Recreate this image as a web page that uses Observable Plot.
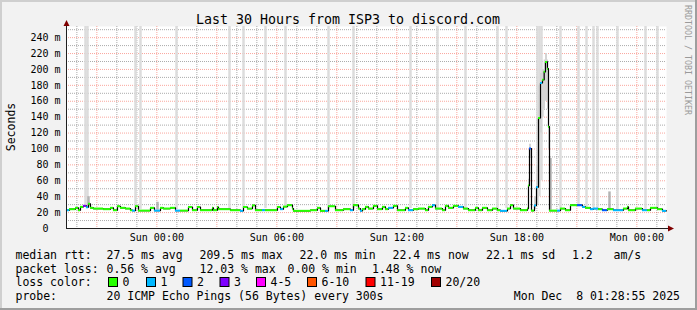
<!DOCTYPE html>
<html><head><meta charset="utf-8">
<script src="https://cdn.jsdelivr.net/npm/d3@7"></script>
<script src="https://cdn.jsdelivr.net/npm/@observablehq/plot@0.6"></script>
<style>
html,body{margin:0;padding:0;background:#f2f2f2;}
#chart{width:697px;height:310px;position:relative;overflow:hidden;}
</style></head><body><div id="chart"></div>
<script>
// ---------- data ----------
const startTime = "2025-12-06T19:28:55Z";
const endTime = "2025-12-08T01:28:55Z";
const titleText = "Last 30 Hours from ISP3 to discord.com";
const yLabelText = "Seconds";
const watermark = "RRDTOOL / TOBI OETIKER";

// median rtt (ms) as steps: minutes after start, value, loss bucket index
const medianOffsetMin = [0,9,27,36,42,51,60,66,72,81,111,132,141,153,162,177,192,198,207,216,252,264,282,291,312,327,342,366,378,393,402,438,441,453,456,492,522,531,543,558,567,588,597,633,642,651,663,678,681,732,753,762,777,786,807,831,852,861,876,882,888,897,906,921,933,948,957,966,981,993,1017,1026,1041,1056,1077,1086,1098,1107,1128,1137,1146,1161,1176,1191,1206,1227,1236,1248,1263,1278,1293,1302,1323,1332,1341,1362,1383,1386,1389,1395,1404,1410,1416,1422,1428,1433,1437,1443,1446,1449,1473,1482,1497,1512,1533,1548,1557,1572,1581,1596,1608,1623,1641,1671,1683,1686,1707,1728,1743,1752,1773,1788];
const medianMs = [23,24.3,26,23,27.2,28.5,26.8,31,26,25.1,24.3,26,23,28,26,25.1,23,22.5,28,22.5,26,22.5,26,25.1,26,22.5,22.5,27,23,27,23,26,23,27,24.3,23,22.2,27,25,29,23,23,23,27,24.3,27.5,29.3,25,22.2,23,26,22.2,22.2,28,23,24.3,23,29.3,25,22.2,24.3,27.2,25.1,28.5,24.3,27.2,24.3,26,28.5,23,26,23,24.3,25.1,23,27.2,29.3,25.1,23,28.5,26,28.5,27.2,25.1,23,26,23,26,23,25.1,23,22.2,25.1,29.3,25.1,23,25.1,54,100.6,22.5,29,52,139,183,187,197,209.5,201,128,22.5,22.5,25.1,23,29.3,29.3,27.2,26,24.3,25.1,24.3,23,24.3,23,25.1,27.2,23,25.1,23,23,26,24.3,22.2];
const medianLoss = [1,0,0,0,0,3,1,0,0,0,0,0,0,0,0,0,0,1,0,0,0,1,0,0,0,1,0,0,0,0,0,0,0,0,0,0,1,0,0,0,0,1,0,0,1,0,0,0,0,0,0,0,1,0,0,0,1,0,0,1,0,0,0,0,0,0,0,1,0,0,0,1,0,0,0,0,1,0,0,0,0,0,1,0,0,0,0,0,0,0,0,1,0,0,0,0,0,0,2,0,1,1,0,1,0,0,0,0,0,0,1,0,0,0,2,1,0,1,1,0,2,0,1,0,0,0,0,1,0,0,0,1];

// smoke: full-range ping spread bars (minutes after start, low ms, high ms)
const barOffsetMin = [57,63,207,222,330,489,531,597,657,786,861,1032,1113,1197,1293,1320,1413,1419,1425,1482,1536,1560,1581,1593,1653,1737,1773];
const barLoMs = [28,28,27,24,24,23,25,25,27,24,25,25,25,25,24,25,30,40,60,24,27,25,24,25,24,24,24];
const barHiMs = [254,254,254,254,254,254,254,254,254,254,254,254,254,254,254,254,254,254,254,254,254,254,254,254,254,254,254];
// partial smoke bits
const bitOffsetMin = [66,273,1452,1629];
const bitLoMs = [28,23,23,23];
const bitHiMs = [40,33,88,46];
// smoke around the evening spike
const spikeOffsetMin = [1386,1389,1395,1404,1410,1416,1422,1428,1433,1437,1443,1446,1449];
const spikeLoMs = [40,88,22.5,24,32,55,120,140,150,160,150,100,22.5];
const spikeHiMs = [62,106,22.5,40,80,180,195,200,212,220,212,180,22.5];

// loss colour legend
const lossLabels = ["0","1","2","3","4-5","6-10","11-19","20/20"];
const lossColors = ["#26ff00","#00b8ff","#0059ff","#7e00ff","#ff00ff","#ff5500","#ff0000","#a10000"];

// stats legend
const rttLabel = "median rtt:";
const rttStats = ["27.5 ms avg","209.5 ms max","22.0 ms min","22.4 ms now","22.1 ms sd","1.2","am/s"];
const lossLabel = "packet loss:";
const lossStats = ["0.56 % avg","12.03 % max","0.00 % min","1.48 % now"];
const colorLabel = "loss color:";
const probeLabel = "probe:";
const probeText = "20 ICMP Echo Pings (56 Bytes) every 300s";
const stampText = "Mon Dec  8 01:28:55 2025";
const yTicks = [0,20,40,60,80,100,120,140,160,180,200,220,240];

// ---------- build ----------
const t0 = new Date(startTime), tEnd = new Date(endTime);
const at = m => new Date(+t0 + m * 60000);
const med = medianOffsetMin.map((m, i) => ({
  t: at(m),
  t2: at(i + 1 < medianOffsetMin.length ? medianOffsetMin[i + 1] : 1800),
  v: medianMs[i],
  c: lossColors[medianLoss[i]]
}));
const lineData = med.concat([{t: tEnd, v: medianMs[medianMs.length - 1]}]);
const bars = barOffsetMin.map((m, i) => ({t: at(m), lo: barLoMs[i], hi: barHiMs[i]}));
const bits = bitOffsetMin.map((m, i) => ({t: at(m), lo: bitLoMs[i], hi: bitHiMs[i]}));
const spike = spikeOffsetMin.map((m, i) => ({t: at(m), lo: spikeLoMs[i], hi: spikeHiMs[i]}));

const hours = d3.utcHour.range(t0, tEnd);
const majorHours = hours.filter(d => d.getUTCHours() % 3 === 0);
const minorHours = hours.filter(d => d.getUTCHours() % 3 !== 0);
const xTicks = hours.filter(d => d.getUTCHours() % 6 === 0);
const yMinor = d3.range(10, 254, 20);
const yMajor = d3.range(20, 254, 20);

const gridGray = "rgba(143,143,143,0.75)";
const gridRed = "rgba(245,79,61,0.5)";

const plot = Plot.plot({
  width: 697, height: 310,
  marginLeft: 66, marginRight: 31, marginTop: 26, marginBottom: 82,
  style: {background: "#f2f2f2", fontFamily: "DejaVu Sans Mono", fontSize: "10px", color: "#000", overflow: "visible"},
  x: {type: "utc", domain: [t0, tEnd], ticks: xTicks, tickFormat: d3.utcFormat("%a %H:%M"), tickSize: 0, tickPadding: 5, label: null},
  y: {domain: [0, 254], ticks: yTicks, tickFormat: d => d === 0 ? "0\u00a0\u00a0" : d + " m", tickSize: 0, tickPadding: 6, label: null},
  color: {type: "identity"},
  marks: [
    Plot.frame({fill: "white", stroke: "none"}),
    Plot.ruleX(minorHours, {stroke: gridGray, strokeDasharray: "1,1"}),
    Plot.ruleX(majorHours, {stroke: gridRed, strokeDasharray: "1,1"}),
    Plot.ruleY(yMinor, {stroke: gridGray, strokeDasharray: "1,1"}),
    Plot.ruleY(yMajor, {stroke: gridRed, strokeDasharray: "1,1"}),
    Plot.ruleX(bars, {x: "t", y1: "lo", y2: "hi", stroke: "#dcdcdc", strokeWidth: 2.5}),
    Plot.ruleX(bits, {x: "t", y1: "lo", y2: "hi", stroke: "#b4b4b4", strokeWidth: 2.5}),
    Plot.areaY(spike, {x: "t", y1: "lo", y2: "hi", curve: "step-after", fill: "#d4d4d4"}),
    Plot.line(lineData, {x: "t", y: "v", curve: "step-after", stroke: "#000", strokeWidth: 1.2}),
    Plot.ruleY(med, {y: "v", x1: "t", x2: "t2", stroke: "c", strokeWidth: 2}),
    Plot.ruleY([0], {stroke: "#1f1f1f"}),
    Plot.ruleX([t0], {stroke: "#1f1f1f"})
  ]
});
document.getElementById("chart").appendChild(plot);

// ---------- decorations ----------
const svg = d3.select(plot);
const sx = plot.scale("x"), sy = plot.scale("y");
const X0 = sx.apply(t0), X1 = sx.apply(tEnd), Y0 = sy.apply(0), YT = sy.apply(254);
const mono = "DejaVu Sans Mono";

// axis extensions + arrows
svg.append("line").attr("x1", X1).attr("x2", X1 + 3).attr("y1", Y0 + 0.5).attr("y2", Y0 + 0.5).attr("stroke", "#1f1f1f");
svg.append("path").attr("d", `M${X1 + 2},${Y0 - 2.5}L${X1 + 8},${Y0 + 0.5}L${X1 + 2},${Y0 + 3.5}Z`).attr("fill", "#800000");
svg.append("path").attr("d", `M${X0 - 2.5},${YT}L${X0 + 0.5},${YT - 6}L${X0 + 3.5},${YT}Z`).attr("fill", "#800000");

// 3D border
svg.append("rect").attr("x", 0).attr("y", 0).attr("width", 697).attr("height", 2).attr("fill", "#cfcfcf");
svg.append("rect").attr("x", 0).attr("y", 0).attr("width", 2).attr("height", 310).attr("fill", "#cfcfcf");
svg.append("rect").attr("x", 0).attr("y", 308).attr("width", 697).attr("height", 2).attr("fill", "#9e9e9e");
svg.append("rect").attr("x", 695).attr("y", 0).attr("width", 2).attr("height", 310).attr("fill", "#9e9e9e");

function txt(x, y, s, size, extra = {}) {
  const t = svg.append("text").attr("x", x).attr("y", y).text(s)
    .attr("font-family", mono).attr("font-size", size).attr("fill", extra.fill || "#000")
    .attr("text-anchor", extra.anchor || "start")
    .style("white-space", "pre").attr("xml:space", "preserve");
  if (extra.transform) t.attr("transform", extra.transform).attr("x", 0).attr("y", 0);
  return t;
}

txt(348, 24, titleText, "13.3px", {anchor: "middle"});
txt(0, 0, yLabelText, "11.5px", {anchor: "middle", transform: "translate(15,127) rotate(-90)"});
txt(0, 0, watermark, "8.3px", {fill: "#9a9a9a", transform: "translate(685,5) rotate(90)"});

const fs = "11.5px";
const rowY = [258.5, 272.5, 286, 300];
txt(15.5, rowY[0], rttLabel, fs);
const rttX = [106.5, 199.5, 299.5, 392.5, 486, 572, 613.5];
rttStats.forEach((s, i) => txt(rttX[i], rowY[0], s, fs));
txt(15.5, rowY[1], lossLabel, fs);
const lossX = [106.5, 199.5, 287.5, 372];
lossStats.forEach((s, i) => txt(lossX[i], rowY[1], s, fs));
txt(15.5, rowY[2], colorLabel, fs);
const swX = [108, 146, 182.5, 219.5, 256, 307, 365.5, 431];
lossLabels.forEach((s, i) => {
  svg.append("rect").attr("x", swX[i] + 0.5).attr("y", 277.5).attr("width", 9).attr("height", 9)
    .attr("fill", lossColors[i]).attr("stroke", "#000").attr("stroke-width", 1);
  txt(swX[i] + 14.5, rowY[2], s, fs);
});
txt(15.5, rowY[3], probeLabel, fs);
txt(106.5, rowY[3], probeText, fs);
txt(680, rowY[3], stampText, fs, {anchor: "end"});
</script></body></html>
